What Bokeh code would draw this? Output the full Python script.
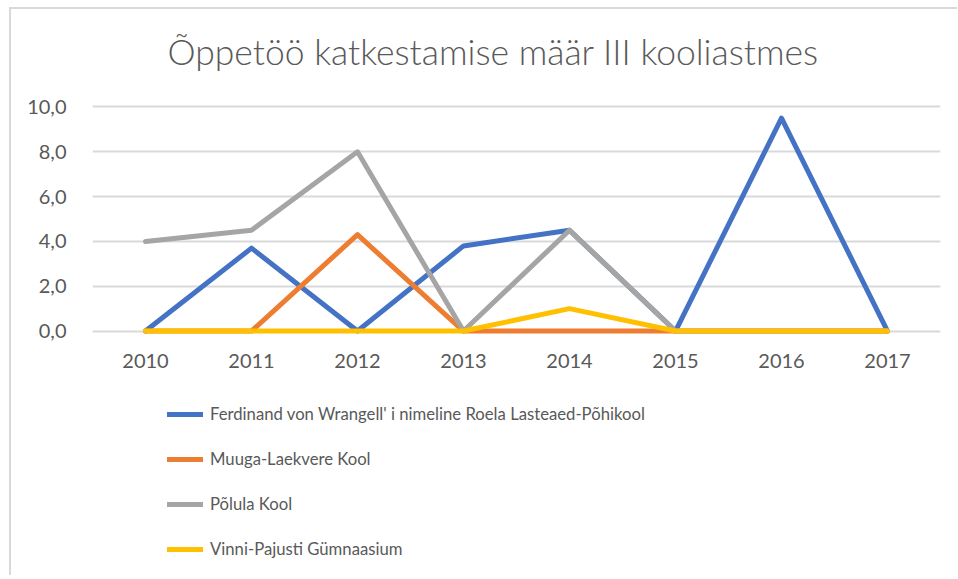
from bokeh.plotting import figure
from bokeh.models import FactorRange, Range1d, FixedTicker, Legend, LegendItem, Label
from bokeh.layouts import column
from bokeh.embed import file_html
from bokeh.resources import INLINE

years = ["2010", "2011", "2012", "2013", "2014", "2015", "2016", "2017"]
ferdinand = [0.0, 3.7, 0.0, 3.8, 4.5, 0.0, 9.5, 0.0]
muuga = [0.0, 0.0, 4.3, 0.0, 0.0, 0.0, 0.0, 0.0]
polula = [4.0, 4.5, 8.0, 0.0, 4.5, 0.0, 0.0, 0.0]
vinni = [0.0, 0.0, 0.0, 0.0, 1.0, 0.0, 0.0, 0.0]
series_names = ["Ferdinand von Wrangell' i nimeline Roela Lasteaed-Põhikool",
                "Muuga-Laekvere Kool", "Põlula Kool", "Vinni-Pajusti Gümnaasium"]
y_ticks = [0, 2, 4, 6, 8, 10]
y_tick_labels = ["0,0", "2,0", "4,0", "6,0", "8,0", "10,0"]
title_text = "Õppetöö katkestamise määr III kooliastmes"

colors = ["#4472C4", "#ED7D31", "#A5A5A5", "#FFC000"]
FONT = "Lato"
TXT = "#595959"
W = 946

# title strip
tf = figure(width=W, height=80, output_backend="svg", toolbar_location=None,
            x_axis_location=None, y_axis_location=None, min_border=0,
            x_range=Range1d(0, W), y_range=Range1d(0, 80))
tf.grid.grid_line_color = None
tf.outline_line_color = None
tf.add_layout(Label(x=447, y=17, text=title_text, text_align="center", text_baseline="bottom",
                    text_font="Lato Light", text_font_size="35.5px", text_color=TXT))

p = figure(x_range=FactorRange(factors=years), y_range=Range1d(-0.6, 10.2),
           width=W, height=299, output_backend="svg", toolbar_location=None,
           min_border_left=81, min_border_right=17, min_border_top=13, min_border_bottom=44)
p.outline_line_color = None
p.background_fill_color = "white"
p.border_fill_color = "white"

p.xgrid.grid_line_color = None
p.ygrid.grid_line_color = "#d9d9d9"
p.ygrid.grid_line_width = 2
p.yaxis.ticker = FixedTicker(ticks=y_ticks)
p.yaxis.major_label_overrides = {k: v for k, v in zip(y_ticks, y_tick_labels)}

for ax in (p.xaxis[0], p.yaxis[0]):
    ax.axis_line_color = None
    ax.major_tick_line_color = None
    ax.minor_tick_line_color = None
    ax.major_label_text_font = FONT
    ax.major_label_text_font_size = "20px"
    ax.major_label_text_color = TXT
p.yaxis.major_label_standoff = 20
p.xaxis.major_label_standoff = 3

# legend strip below the chart
lg = figure(width=W, height=187, output_backend="svg", toolbar_location=None,
            x_axis_location=None, y_axis_location=None,
            min_border=0, x_range=Range1d(0, 1), y_range=Range1d(0, 1))
lg.grid.grid_line_color = None
lg.outline_line_color = None
lg.border_fill_color = "white"

items = []
for name, vals, c in zip(series_names, [ferdinand, muuga, polula, vinni], colors):
    p.line(years, vals, line_color=c, line_width=5, line_join="round", line_cap="round")
    r = lg.line([-5, -4], [-5, -5], line_color=c, line_width=5, line_cap="round")
    items.append(LegendItem(label=name, renderers=[r]))

legend = Legend(items=items, location=(75, 16), orientation="vertical",
                glyph_width=36, glyph_height=20, label_height=20, spacing=25,
                label_standoff=7, padding=0, margin=0, border_line_color=None,
                background_fill_alpha=0, label_text_font=FONT, label_text_font_size="16.7px",
                label_text_color=TXT)
lg.add_layout(legend, "center")

layout = column(tf, p, lg, spacing=0)
layout.styles = {"border-top": "2px solid #d9d9d9", "border-left": "2px solid #d9d9d9",
                 "margin-left": "9px", "margin-top": "7px"}
open("out.html", "w").write(file_html(layout, INLINE))
